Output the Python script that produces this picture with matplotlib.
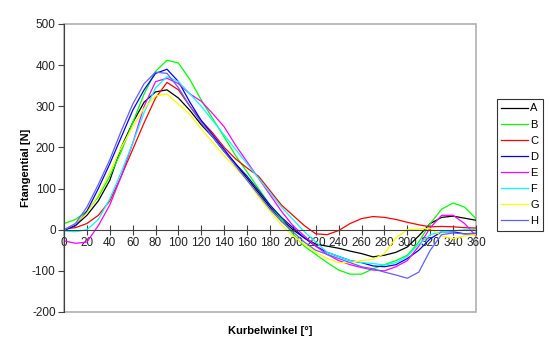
import matplotlib
matplotlib.use("Agg")
import matplotlib.pyplot as plt
from matplotlib.patches import Rectangle

plt.rcParams['font.family'] = ['Liberation Sans', 'DejaVu Sans']
plt.rcParams['axes.unicode_minus'] = False

# Kurbelwinkel in Grad
winkel = list(range(0, 361, 10))

A = [0, 10, 35, 70, 120, 200, 260, 310, 335, 340, 320, 290, 255, 225, 190, 160, 125, 90, 55,
     25, 0, -20, -35, -40, -45, -52, -58, -66, -62, -55, -42, -15, 15, 30, 33, 28, 23]
B = [15, 25, 45, 80, 130, 190, 260, 330, 385, 412, 405, 365, 315, 270, 225, 180, 140, 100, 60,
     25, -10, -40, -60, -80, -98, -108, -108, -95, -85, -75, -62, -30, 15, 50, 65, 55, 27]
C = [2, 5, 15, 35, 70, 130, 195, 260, 320, 358, 340, 300, 265, 235, 200, 172, 150, 130, 95,
     60, 35, 10, -10, -12, -2, 15, 27, 32, 30, 25, 18, 12, 7, 8, 7, 5, 4]
D = [-2, 10, 45, 100, 160, 225, 290, 340, 380, 390, 360, 310, 265, 230, 195, 160, 130, 95, 60,
     30, 5, -20, -40, -55, -65, -75, -80, -88, -90, -85, -70, -50, -22, -5, -5, -10, -10]
E = [-27, -33, -30, 10, 60, 130, 210, 300, 360, 368, 355, 330, 312, 282, 250, 205, 165, 125, 85,
     45, 10, -15, -40, -60, -75, -85, -92, -98, -100, -90, -75, -40, 5, 35, 35, 15, -15]
F = [-3, -5, 0, 25, 75, 140, 210, 285, 345, 372, 360, 330, 300, 265, 230, 195, 160, 125, 90,
     55, 25, -5, -30, -55, -65, -75, -80, -82, -86, -80, -65, -35, -12, -5, -3, 0, 0]
G = [0, 15, 40, 85, 140, 200, 250, 295, 325, 330, 305, 280, 245, 212, 180, 150, 120, 80, 45,
     12, -15, -35, -55, -70, -80, -80, -75, -72, -58, -20, 0, 2, 3, -15, -22, -15, -12]
H = [0, 15, 55, 110, 170, 240, 305, 355, 383, 380, 345, 300, 260, 225, 190, 155, 120, 85, 50,
     20, -5, -30, -50, -60, -70, -80, -90, -95, -103, -110, -118, -103, -50, -12, -8, -10, -8]

serien = ['A', 'B', 'C', 'D', 'E', 'F', 'G', 'H']
werte = [A, B, C, D, E, F, G, H]
farben = ['black', '#00ff00', '#ff0000', '#0000ff', '#ff00ff', '#00ffff', '#ffff00', '#6060ff']

fig = plt.figure(figsize=(5.5, 3.54), dpi=100)
ax = fig.add_axes([64/550, 1-312/354, (476-64)/550, (312-24)/354])

for name, y, c in zip(serien, werte, farben):
    ax.plot(winkel, y, color=c, lw=0.9, label=name)

ax.set_xlim(0, 360)
ax.set_ylim(-200, 500)
ax.set_xticks(range(0, 361, 20))
ax.set_yticks(range(-200, 501, 100))

# grauer Rahmen der Zeichenflaeche
ax.add_patch(Rectangle((0, 0), 1, 1, transform=ax.transAxes, fill=False,
                       edgecolor='#b0b0b0', lw=1.2, zorder=0, clip_on=False))
ax.spines['top'].set_visible(False)
ax.spines['right'].set_visible(False)
ax.spines['bottom'].set_position(('data', 0))
ax.spines['bottom'].set_color('#404040')
ax.spines['left'].set_color('#404040')
ax.tick_params(axis='x', direction='inout', length=7, labelsize=8.5, pad=2, colors='#404040',
               labelcolor='#222222')
ax.tick_params(axis='y', direction='out', length=4, labelsize=8.5, pad=2, colors='#404040',
               labelcolor='#222222')

ax.set_ylabel('Ftangential [N]', fontsize=8, fontweight='bold', labelpad=1)
ax.set_xlabel('Kurbelwinkel [°]', fontsize=8, fontweight='bold')
ax.xaxis.set_label_coords(0.5, -0.05)

leg = fig.legend(loc='upper left', bbox_to_anchor=(497/550, 1-99/354), fontsize=8,
                 frameon=True, fancybox=False, edgecolor='black', handlelength=2.4,
                 handletextpad=0.2, labelspacing=0.55, borderpad=0.4, borderaxespad=0)
leg.get_frame().set_linewidth(0.8)

fig.savefig('out.png', dpi=100)
